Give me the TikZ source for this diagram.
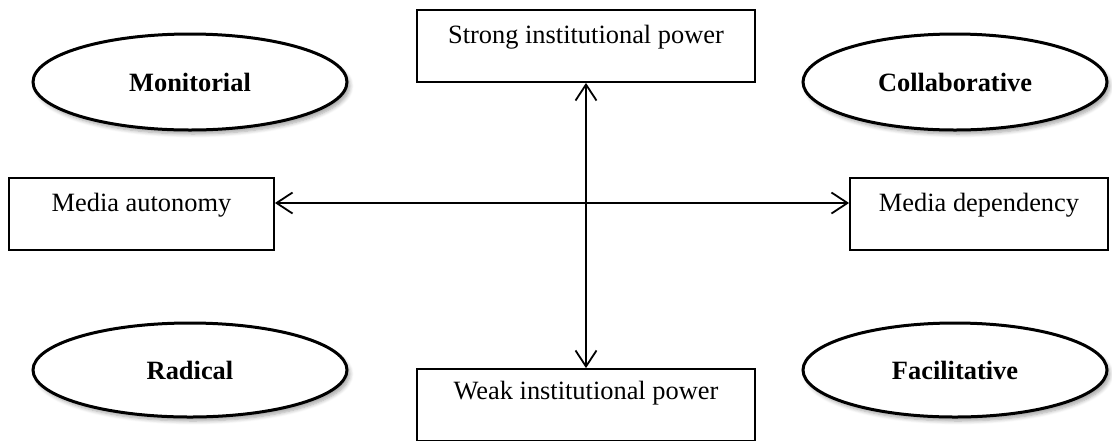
\documentclass[tikz,border=0pt]{standalone}
\usepackage{fontspec}
\setmainfont{Liberation Serif}
\usetikzlibrary{arrows.meta,shapes.geometric,shadows.blur}
\begin{document}
\begin{tikzpicture}[x=0.5pt,y=-0.5pt,
  font=\fontsize{13.2}{16}\selectfont,
  box/.style={draw,line width=0.9pt,rectangle,inner sep=0pt,minimum height=36pt},
  oval/.style={draw,line width=1.5pt,ellipse,inner sep=0pt,fill=white,
    minimum width=157pt,minimum height=48pt,font=\fontsize{13.2}{16}\selectfont\bfseries,
    blur shadow={shadow xshift=1.5pt,shadow yshift=-2pt,shadow blur steps=6,shadow opacity=35}},
  lbl/.style={inner sep=0pt},
  biarrow/.style={line width=0.9pt,{Straight Barb[length=8pt,width=10.5pt,line width=0.9pt]}-{Straight Barb[length=8pt,width=10.5pt,line width=0.9pt]}}
]
\useasboundingbox (0,0) rectangle (1112,440);
% boxes
\node[box,minimum width=169pt] (sip) at (586,46) {};
\node[lbl] (siptxt) at (586,37) {Strong institutional power};
\node[box,minimum width=169pt] (wip) at (586,405) {};
\node[lbl] (wiptxt) at (586,393) {Weak institutional power};
\node[box,minimum width=132.5pt] (ma) at (141.5,214) {};
\node[lbl] (matxt) at (141.5,205) {Media autonomy};
\node[box,minimum width=129pt] (md) at (979,214) {};
\node[lbl] (mdtxt) at (979,205) {Media dependency};
% ellipses
\node[oval] (mon) at (190,82) {Monitorial};
\node[oval,minimum width=152pt] (col) at (955,82) {Collaborative};
\node[oval,minimum height=47pt] (rad) at (190,370) {Radical};
\node[oval,minimum width=152pt,minimum height=47pt] (fac) at (955,370) {Facilitative};
% arrows
\draw[biarrow] (sip.south) -- (wip.north);
\draw[biarrow] ([yshift=5.5pt]ma.east) -- ([yshift=5.5pt]md.west);
\end{tikzpicture}
\end{document}
